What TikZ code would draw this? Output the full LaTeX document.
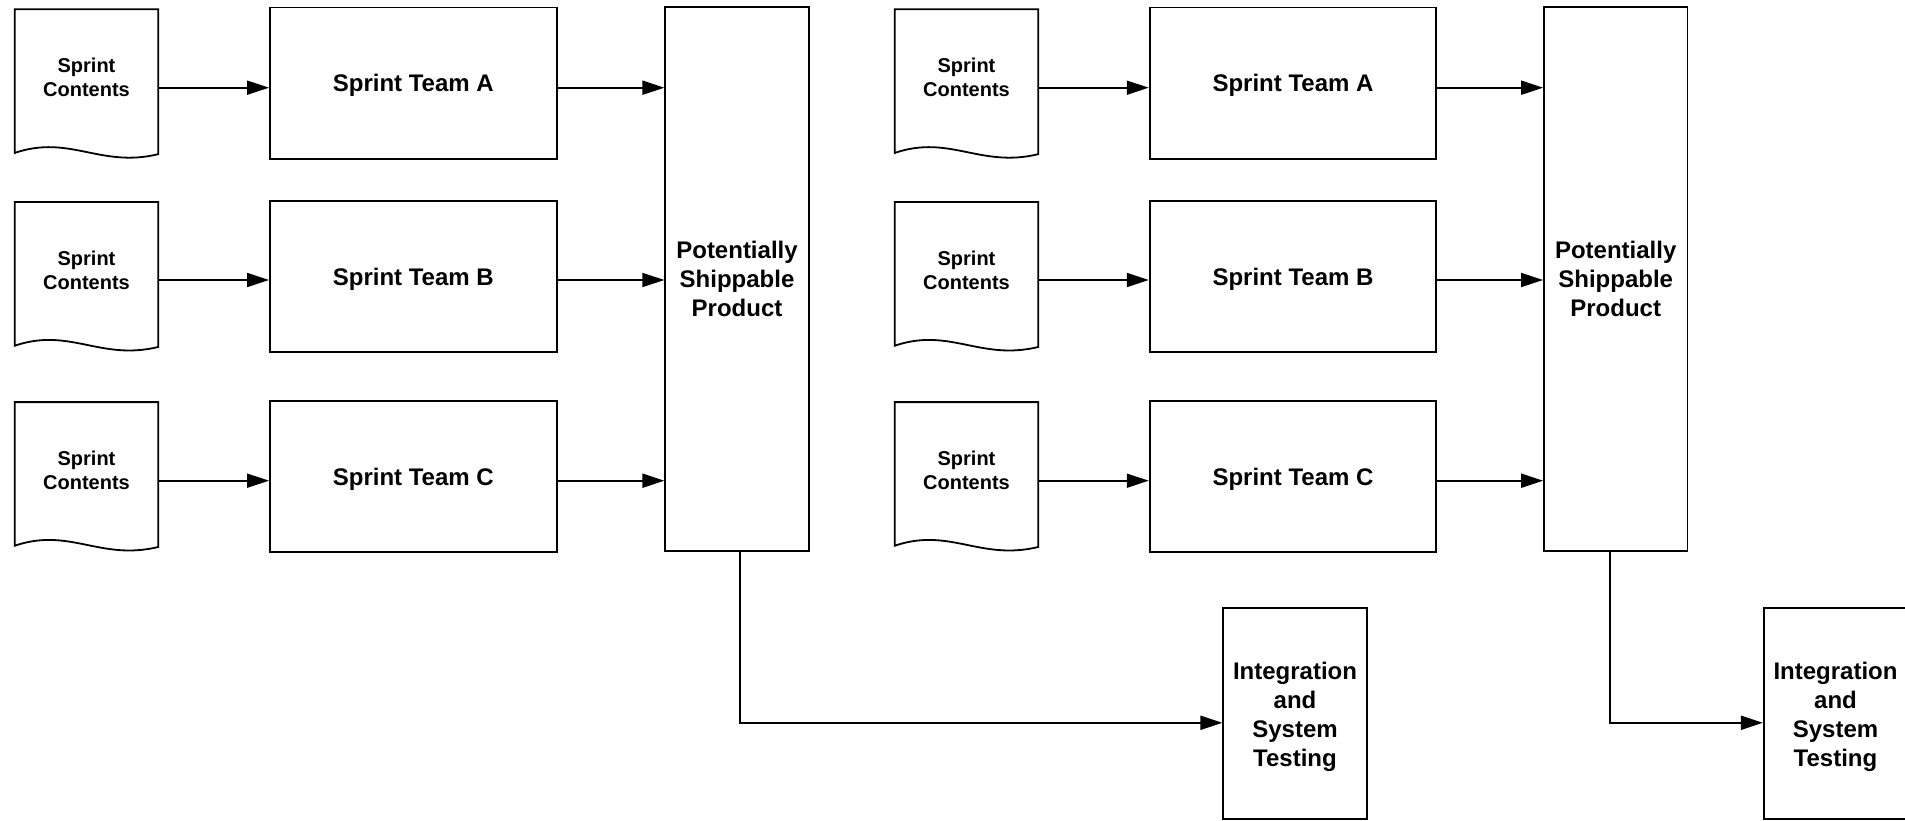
\documentclass[tikz,border=0pt]{standalone}
\usepackage{fontspec}
\setmainfont{Liberation Sans}
\usetikzlibrary{arrows.meta,calc}
\newcommand\docoutline[1]{\draw[line width=1.8pt] (#1.north west) -- (#1.north east) -- ($(#1.south east)+(0,9)$) .. controls ($(#1.south east)+(-58,23)$) and ($(#1.south west)+(55,-11)$) .. ($(#1.south west)+(0,7.7)$) -- cycle;}
\begin{document}
\begin{tikzpicture}[x=1pt,y=-1pt,
  docbox/.style={rectangle, minimum width=143pt, minimum height=135.5pt, inner sep=0pt, align=center, font=\bfseries\fontsize{20}{24}\selectfont},
  teambox/.style={draw, line width=1.8pt, rectangle, minimum width=286.7pt, minimum height=151.6pt, inner sep=0pt, text depth=0pt, font=\bfseries\fontsize{24}{29}\selectfont},
  tallbox/.style={draw, line width=1.8pt, rectangle, minimum width=143.4pt, inner sep=0pt, align=center, font=\bfseries\fontsize{24}{29}\selectfont},
  arr/.style={line width=1.8pt, -{Triangle[length=22pt,width=14pt]}}
]
\useasboundingbox[fill=white] (0,0) rectangle (1905,821);
\coordinate (ya) at (0,87.7);
\coordinate (yb) at (0,280);
\coordinate (yc) at (0,480.7);
% left group
\node[docbox] (d1) at (86.5,77.25) {Sprint\\Contents};
\node[docbox] (d2) at (86.5,270.05) {Sprint\\Contents};
\node[docbox] (d3) at (86.5,470.05) {Sprint\\Contents};
\docoutline{d1}\docoutline{d2}\docoutline{d3}
\node[teambox] (ta1) at (413.3,83.3) {Sprint Team A};
\node[teambox] (tb1) at (413.3,276.5) {Sprint Team B};
\node[teambox] (tc1) at (413.3,476.5) {Sprint Team C};
\node[tallbox, minimum height=543.4pt] (p1) at (737,279) {Potentially\\Shippable\\Product};
\node[tallbox, minimum height=211pt, text depth=0pt] (i1) at (1295,713.8) {Integration\\and\\System\\Testing};
\draw[arr] (d1.east |- ya) -- (ta1.west |- ya);
\draw[arr] (d2.east |- yb) -- (tb1.west |- yb);
\draw[arr] (d3.east |- yc) -- (tc1.west |- yc);
\draw[arr] (ta1.east |- ya) -- (p1.west |- ya);
\draw[arr] (tb1.east |- yb) -- (p1.west |- yb);
\draw[arr] (tc1.east |- yc) -- (p1.west |- yc);
\draw[arr] ($(p1.south)+(3,0)$) |- ($(i1.west)+(0,9)$);
% right group
\node[docbox] (d4) at (966.5,77.25) {Sprint\\Contents};
\node[docbox] (d5) at (966.5,270.05) {Sprint\\Contents};
\node[docbox] (d6) at (966.5,470.05) {Sprint\\Contents};
\docoutline{d4}\docoutline{d5}\docoutline{d6}
\node[teambox] (ta2) at (1293,83.3) {Sprint Team A};
\node[teambox] (tb2) at (1293,276.5) {Sprint Team B};
\node[teambox] (tc2) at (1293,476.5) {Sprint Team C};
\node[tallbox, minimum height=543.4pt] (p2) at (1615.7,279) {Potentially\\Shippable\\Product};
\node[tallbox, minimum height=211pt, text depth=0pt] (i2) at (1835.5,713.8) {Integration\\and\\System\\Testing};
\draw[arr] (d4.east |- ya) -- (ta2.west |- ya);
\draw[arr] (d5.east |- yb) -- (tb2.west |- yb);
\draw[arr] (d6.east |- yc) -- (tc2.west |- yc);
\draw[arr] (ta2.east |- ya) -- (p2.west |- ya);
\draw[arr] (tb2.east |- yb) -- (p2.west |- yb);
\draw[arr] (tc2.east |- yc) -- (p2.west |- yc);
\draw[arr] ($(p2.south)+(-5.7,0)$) |- ($(i2.west)+(0,9)$);
\end{tikzpicture}
\end{document}
